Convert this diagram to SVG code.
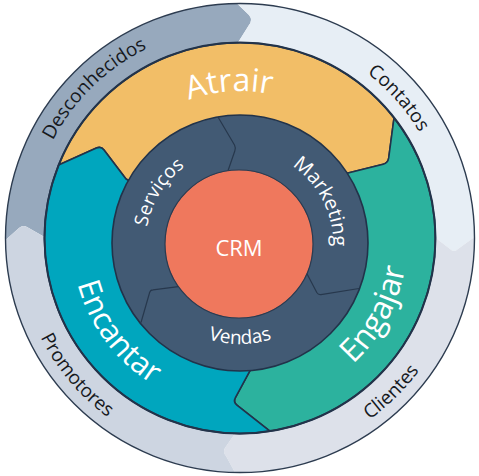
<svg xmlns="http://www.w3.org/2000/svg" width="479" height="476" viewBox="0 0 479 476">
<style>
.seg{stroke:#22334a;stroke-width:1.6;stroke-linejoin:round}
.tout{font-family:"Open Sans","Noto Sans",sans-serif;font-size:19px;fill:#16191d}
.tmid{font-family:"Open Sans","Noto Sans",sans-serif;font-size:32px;fill:#ffffff}
.tin{font-family:"Open Sans","Noto Sans",sans-serif;font-size:19px;fill:#ffffff}
.div{fill:none;stroke:#27384d;stroke-width:1.2;stroke-linejoin:round}
</style>
<defs>
<path id="p-desc" d="M65.7,356.9 A211,211 0 0 1 363.1,66.6"/>
<path id="p-cont" d="M131.6,60.5 A208,208 0 0 1 402.6,367.8"/>
<path id="p-cli" d="M110.5,419.5 A223,223 0 0 0 423.8,111.7"/>
<path id="p-prom" d="M69.2,94.7 A223,223 0 0 0 351.5,431.1"/>
<path id="p-atr" d="M90.8,225.3 A150,150 0 0 1 385.5,204.7"/>
<path id="p-eng" d="M187.3,399.5 A167,167 0 0 0 343.7,110.1"/>
<path id="p-enc" d="M117.9,125.6 A168,168 0 0 0 315.2,391.2"/>
<path id="p-serv" d="M177.1,312.9 A94,94 0 0 1 275.2,155.8"/>
<path id="p-mkt" d="M212.8,154.1 A93,93 0 0 1 296,317.3"/>
<path id="p-vend" d="M140.5,260.5 A101,101 0 0 0 339.5,260.5"/>
</defs>
<rect width="479" height="476" fill="#ffffff"/>
<g id="desconhecidos">
<path fill="#97a9bd" d="M5.5,240 A234.5,234.5 0 0 1 237,3.5 L249,15 Q253,20 249,25 L238,42.5 A195.5,195.5 0 0 0 44.5,237 L27,227 Q23,224.5 19,228 Z"/>
<text class="tout"><textPath href="#p-desc" startOffset="50%" text-anchor="middle">Desconhecidos</textPath></text>
</g>
<g id="contatos">
<path fill="#e7eef5" d="M237,3.5 A234.5,234.5 0 0 1 474.5,237 L458,249 Q454,253 450,249 L434.5,237 A195.5,195.5 0 0 0 238,42.5 L249,25 Q253,20 249,15 Z"/>
<text class="tout"><textPath href="#p-cont" startOffset="50%" text-anchor="middle">Contatos</textPath></text>
</g>
<g id="clientes">
<path fill="#dde1ea" d="M474.5,237 A234.5,234.5 0 0 1 235,472.4 L226,456 Q222,451 226,446.5 L235,433.5 A195.5,195.5 0 0 0 434.5,237 L450,249 Q454,253 458,249 Z"/>
<text class="tout"><textPath href="#p-cli" startOffset="50%" text-anchor="middle">Clientes</textPath></text>
</g>
<g id="promotores">
<path fill="#cdd5e1" d="M235,472.4 A234.5,234.5 0 0 1 5.5,240 L19,228 Q23,224.5 27,227 L44.5,237 A195.5,195.5 0 0 0 235,433.5 L226,446.5 Q222,451 226,456 Z"/>
<text class="tout"><textPath href="#p-prom" startOffset="50%" text-anchor="middle">Promotores</textPath></text>
</g>
<circle cx="240" cy="238" r="234.5" fill="none" stroke="#2d3c50" stroke-width="1.4"/>
<g id="atrair">
<path class="seg" fill="#f2be67" d="M58.6,165.1 A195.5,195.5 0 0 1 394,118 L388.7,158 Q388,163 383.2,164.2 L348,173 L240,243 L126,179 L104,150 Q101,146 96.4,148.1 Z"/>
<text class="tmid"><textPath href="#p-atr" startOffset="50%" text-anchor="middle">Atrair</textPath></text>
</g>
<g id="engajar">
<path class="seg" fill="#2cb29e" d="M394,118 A195.5,195.5 0 0 1 269.9,431.2 L236.9,405.1 Q233,402 235.4,397.6 L250,370.7 L240,243 L348,173 L383.2,164.2 Q388,163 388.7,158 Z"/>
<text class="tmid"><textPath href="#p-eng" startOffset="50%" text-anchor="middle">Engajar</textPath></text>
</g>
<g id="encantar">
<path class="seg" fill="#00a6be" d="M269.9,431.2 A195.5,195.5 0 0 1 58.6,165.1 L96.4,148.1 Q101,146 104,150 L126,179 L240,243 L250,370.7 L235.4,397.6 Q233,402 236.9,405.1 Z"/>
<text class="tmid" style="font-size:31px"><textPath href="#p-enc" startOffset="50%" text-anchor="middle">Encantar</textPath></text>
</g>
<circle cx="240" cy="238" r="195.5" fill="none" stroke="#22334a" stroke-width="2"/>
<g id="anel-interno">
<circle cx="240" cy="243" r="128" fill="#425a74" stroke="#22334a" stroke-width="1.6"/>
<path class="div" d="M218,117 L234.5,145 Q236,148 234.8,151 L228,170.8"/>
<path class="div" d="M306.7,273.3 L316.8,292.5 Q318.3,295 321,294.6 L359,288.5"/>
<path class="div" d="M141,322.5 L149.5,293 Q150,290 153,289.8 L178.3,286.7"/>
</g>
<g id="servicos">
<text class="tin"><textPath href="#p-serv" startOffset="50%" text-anchor="middle">Serviços</textPath></text>
</g>
<g id="marketing">
<text class="tin" style="font-size:20px"><textPath href="#p-mkt" startOffset="50%" text-anchor="middle">Marketing</textPath></text>
</g>
<g id="vendas">
<text class="tin"><textPath href="#p-vend" startOffset="50%" text-anchor="middle">Vendas</textPath></text>
</g>
<g id="crm">
<circle cx="239" cy="244" r="74" fill="#ef785d" stroke="#2b3b50" stroke-width="1.2"/>
<text x="239" y="256" text-anchor="middle" font-family="Open Sans, Noto Sans, sans-serif" font-size="22" fill="#ffffff">CRM</text>
</g>
</svg>
